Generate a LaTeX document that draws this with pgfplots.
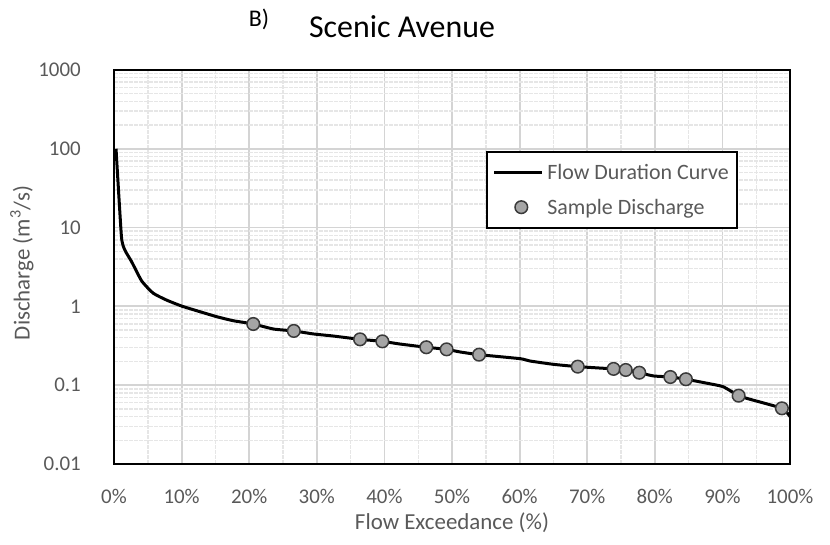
\documentclass[border=0pt]{standalone}
\usepackage{fontspec}
\setmainfont{Carlito}
\usepackage{pgfplots}
\pgfplotsset{compat=1.18}
\definecolor{tickgray}{HTML}{595959}
\definecolor{majgrid}{HTML}{D4D4D4}
\definecolor{mingrid}{HTML}{E6E6E6}
\definecolor{markfill}{HTML}{A5A5A5}
\definecolor{markedge}{HTML}{3A3A3A}

\pgfplotstableread{
x y
0.3 100
1.1 7.7
1.6 5.2
2.6 3.7
4.1 2.1
5.8 1.47
7.8 1.2
10 1.01
12.7 0.857
15.2 0.74
17.6 0.659
20.6 0.598
23.6 0.516
26.6 0.488
29.5 0.447
32.4 0.421
36.4 0.382
39.7 0.36
42.3 0.333
46.2 0.303
49.2 0.285
51.2 0.264
54.0 0.244
60.1 0.217
61.5 0.203
65 0.184
68.6 0.172
73.9 0.161
75.7 0.156
77.7 0.144
79.8 0.131
82.3 0.127
84.6 0.119
87.7 0.106
90.1 0.0957
92.4 0.0736
94.1 0.0662
98.8 0.0509
100 0.040
}\fdc

\pgfplotstableread{
x y
20.6 0.598
26.6 0.488
36.4 0.382
39.7 0.360
46.2 0.303
49.2 0.285
54.0 0.244
68.6 0.172
73.9 0.161
75.7 0.156
77.7 0.144
82.3 0.127
84.6 0.119
92.4 0.0736
98.8 0.0509
}\samples

\begin{document}
\begin{tikzpicture}[x=1bp,y=1bp]
\useasboundingbox (0,0) rectangle (830,545);
\begin{axis}[
  at={(114bp,81bp)}, anchor=south west,
  scale only axis, width=676bp, height=394bp,
  xmin=0, xmax=100,
  ymode=log, ymin=0.01, ymax=1000,
  xtick={0,10,...,100},
  xticklabels={0\%,10\%,20\%,30\%,40\%,50\%,60\%,70\%,80\%,90\%,100\%},
  minor xtick={5,15,...,95},
  ytick={0.01,0.1,1,10,100,1000},
  yticklabels={0.01,0.1,1,10,100,1000},
  minor ytick={0.02,0.03,0.04,0.05,0.06,0.07,0.08,0.09,
               0.2,0.3,0.4,0.5,0.6,0.7,0.8,0.9,
               2,3,4,5,6,7,8,9,
               20,30,40,50,60,70,80,90,
               200,300,400,500,600,700,800,900},
  grid=both,
  major grid style={majgrid, line width=1.8bp},
  minor grid style={mingrid, line width=1.4bp, dash pattern=on 4bp off 1bp},
  major tick length=0pt, minor tick length=0pt,
  axis line style={black, line width=2.5bp},
  tick label style={font=\fontsize{21}{24}\selectfont, text=tickgray},
  xticklabel style={anchor=base, inner sep=0pt, yshift=-40bp},
  yticklabel style={anchor=east, inner sep=0pt, xshift=-33bp},
  legend style={at={(0.550,0.794)}, anchor=north west, draw=black, line width=2bp,
    fill=white, font=\fontsize{22}{26}\selectfont, text=tickgray,
    inner xsep=6bp, inner ysep=10bp, row sep=14bp},
  legend cell align=left,
]
\addplot[black, line width=3bp, smooth, tension=0.3,
  legend image code/.code={\path[draw=none] (0bp,0bp) -- (51bp,0bp);
    \draw[black, line width=3bp] (0bp,0bp) -- (48bp,0bp);}]
  table[x=x,y=y]{\fdc};
\addlegendentry{Flow Duration Curve}
\addplot[only marks, mark=*, mark size=6.3bp,
  mark options={fill=markfill, draw=markedge, line width=1.5bp},
  legend image code/.code={\path[draw=none] (0bp,0bp) -- (51bp,0bp);
    \draw[fill=markfill, draw=markedge, line width=1.5bp] (27bp,0bp) circle (6.3bp);}]
  table[x=x,y=y]{\samples};
\addlegendentry{Sample Discharge}
\end{axis}
\node[font=\fontsize{24}{28}\selectfont, anchor=center] at (259,526) {B)};
\node[font=\fontsize{32}{38}\selectfont, anchor=center] at (402,518) {Scenic Avenue};
\node[font=\fontsize{23}{27}\selectfont, text=tickgray, anchor=center] at (452,22) {Flow Exceedance (\%)};
\node[font=\fontsize{23}{27}\selectfont, text=tickgray, anchor=center, rotate=90] at (22,282) {Discharge (m\textsuperscript{3}/s)};
\end{tikzpicture}
\end{document}
